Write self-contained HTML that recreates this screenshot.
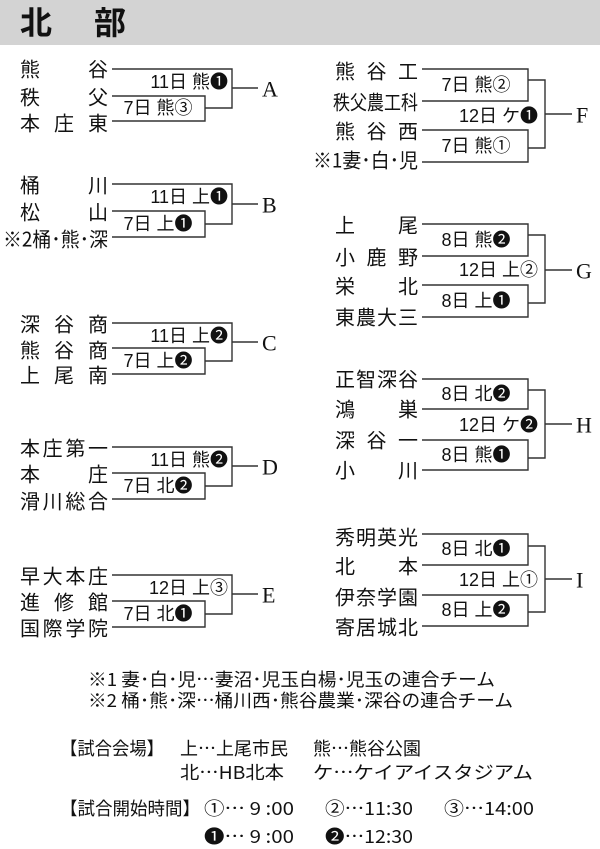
<!DOCTYPE html>
<html><head><meta charset="utf-8"><style>
body{margin:0;background:#fff;}
svg{display:block;}
text{font-family:"Liberation Sans","Noto Sans CJK JP",sans-serif;fill:#111;}
.n{font-size:20px;font-family:"Noto Sans CJK JP",sans-serif;}
.l{font-size:18px;}
.L{font-family:"Liberation Serif",serif;font-size:22px;}
.f{font-size:18px;font-family:"Noto Sans CJK JP",sans-serif;}
path{fill:none;stroke:#333;stroke-width:1.4;}
</style></head><body>
<svg width="600" height="849" viewBox="0 0 600 849" xmlns="http://www.w3.org/2000/svg">
<rect x="0" y="0" width="600" height="45" fill="#d3d3d3"/>
<text x="20" y="34" style="font-size:32px;font-weight:bold">北</text>
<text x="94" y="34" style="font-size:32px;font-weight:bold">部</text>
<g dominant-baseline="central">
<!-- A -->
<text class="n" x="20" y="68" textLength="88" lengthAdjust="spacing">熊谷</text>
<text class="n" x="20" y="96" textLength="88" lengthAdjust="spacing">秩父</text>
<text class="n" x="20" y="122" textLength="88" lengthAdjust="spacing">本庄東</text>
<path d="M112 69H232V108H205M112 96H205V121H112M232 88H258"/>
<text class="l" x="228" y="82" text-anchor="end">11日 熊❶</text>
<text class="l" x="158" y="108" text-anchor="middle">7日 熊③</text>
<text class="L" x="262" y="89">A</text>
<!-- B -->
<text class="n" x="20" y="184" textLength="88" lengthAdjust="spacing">桶川</text>
<text class="n" x="20" y="211" textLength="88" lengthAdjust="spacing">松山</text>
<text class="n" x="3" y="238" textLength="105" lengthAdjust="spacingAndGlyphs">※2桶･熊･深</text>
<path d="M112 184H232V224H205M112 211H205V237H112M232 204H258"/>
<text class="l" x="228" y="197" text-anchor="end">11日 上❶</text>
<text class="l" x="158" y="224" text-anchor="middle">7日 上❶</text>
<text class="L" x="262" y="205">B</text>
<!-- C -->
<text class="n" x="20" y="323" textLength="88" lengthAdjust="spacing">深谷商</text>
<text class="n" x="20" y="349" textLength="88" lengthAdjust="spacing">熊谷商</text>
<text class="n" x="20" y="374" textLength="88" lengthAdjust="spacing">上尾南</text>
<path d="M112 323H232V361H205M112 348H205V374H112M232 342H258"/>
<text class="l" x="228" y="336" text-anchor="end">11日 上❷</text>
<text class="l" x="158" y="361" text-anchor="middle">7日 上❷</text>
<text class="L" x="262" y="343">C</text>
<!-- D -->
<text class="n" x="20" y="447" textLength="88" lengthAdjust="spacing">本庄第一</text>
<text class="n" x="20" y="473" textLength="88" lengthAdjust="spacing">本庄</text>
<text class="n" x="20" y="500" textLength="88" lengthAdjust="spacing">滑川総合</text>
<path d="M112 447H232V486H205M112 473H205V499H112M232 466H258"/>
<text class="l" x="228" y="460" text-anchor="end">11日 熊❷</text>
<text class="l" x="158" y="486" text-anchor="middle">7日 北❷</text>
<text class="L" x="262" y="467">D</text>
<!-- E -->
<text class="n" x="20" y="575" textLength="88" lengthAdjust="spacing">早大本庄</text>
<text class="n" x="20" y="601" textLength="88" lengthAdjust="spacing">進修館</text>
<text class="n" x="20" y="627" textLength="88" lengthAdjust="spacing">国際学院</text>
<path d="M112 575H232V614H205M112 601H205V627H112M232 594H258"/>
<text class="l" x="228" y="588" text-anchor="end">12日 上③</text>
<text class="l" x="158" y="614" text-anchor="middle">7日 北❶</text>
<text class="L" x="262" y="595">E</text>
<!-- F -->
<text class="n" x="335" y="70" textLength="83" lengthAdjust="spacing">熊谷工</text>
<text class="n" x="333" y="101" textLength="85" lengthAdjust="spacingAndGlyphs">秩父農工科</text>
<text class="n" x="335" y="130" textLength="83" lengthAdjust="spacing">熊谷西</text>
<text class="n" x="313" y="159" textLength="105" lengthAdjust="spacingAndGlyphs">※1妻･白･児</text>
<path d="M422 69H528V101H422M422 130H528V162H422M528 80H545V148H528M545 114H572"/>
<text class="l" x="476" y="85" text-anchor="middle">7日 熊②</text>
<text class="l" x="538" y="116" text-anchor="end">12日 ケ❶</text>
<text class="l" x="476" y="146" text-anchor="middle">7日 熊①</text>
<text class="L" x="576" y="115">F</text>
<!-- G -->
<text class="n" x="335" y="224" textLength="83" lengthAdjust="spacing">上尾</text>
<text class="n" x="335" y="256" textLength="83" lengthAdjust="spacing">小鹿野</text>
<text class="n" x="335" y="285" textLength="83" lengthAdjust="spacing">栄北</text>
<text class="n" x="335" y="316" textLength="83" lengthAdjust="spacing">東農大三</text>
<path d="M422 224H528V256H422M422 285H528V317H422M528 235H545V303H528M545 270H572"/>
<text class="l" x="476" y="240" text-anchor="middle">8日 熊❷</text>
<text class="l" x="538" y="270" text-anchor="end">12日 上②</text>
<text class="l" x="476" y="301" text-anchor="middle">8日 上❶</text>
<text class="L" x="576" y="271">G</text>
<!-- H -->
<text class="n" x="335" y="378" textLength="83" lengthAdjust="spacing">正智深谷</text>
<text class="n" x="335" y="408" textLength="83" lengthAdjust="spacing">鴻巣</text>
<text class="n" x="335" y="439" textLength="83" lengthAdjust="spacing">深谷一</text>
<text class="n" x="335" y="469" textLength="83" lengthAdjust="spacing">小川</text>
<path d="M422 379H528V409H422M422 440H528V470H422M528 390H545V458H528M545 424H572"/>
<text class="l" x="476" y="394" text-anchor="middle">8日 北❷</text>
<text class="l" x="538" y="425" text-anchor="end">12日 ケ❷</text>
<text class="l" x="476" y="455" text-anchor="middle">8日 熊❶</text>
<text class="L" x="576" y="425">H</text>
<!-- I -->
<text class="n" x="335" y="536" textLength="83" lengthAdjust="spacing">秀明英光</text>
<text class="n" x="335" y="565" textLength="83" lengthAdjust="spacing">北本</text>
<text class="n" x="335" y="596" textLength="83" lengthAdjust="spacing">伊奈学園</text>
<text class="n" x="335" y="626" textLength="83" lengthAdjust="spacing">寄居城北</text>
<path d="M422 534H528V565H422M422 595H528V626H422M528 546H545V612H528M545 579H572"/>
<text class="l" x="476" y="549" text-anchor="middle">8日 北❶</text>
<text class="l" x="538" y="580" text-anchor="end">12日 上①</text>
<text class="l" x="476" y="610" text-anchor="middle">8日 上❷</text>
<text class="L" x="576" y="580">I</text>
<!-- footer -->
<text class="f" x="88" y="679" textLength="407" lengthAdjust="spacingAndGlyphs">※1 妻･白･児…妻沼･児玉白楊･児玉の連合チーム</text>
<text class="f" x="88" y="700" textLength="425" lengthAdjust="spacingAndGlyphs">※2 桶･熊･深…桶川西･熊谷農業･深谷の連合チーム</text>
<text class="f" x="60" y="748" textLength="104" lengthAdjust="spacingAndGlyphs">【試合会場】</text>
<text class="f" x="180" y="748" textLength="108" lengthAdjust="spacingAndGlyphs">上…上尾市民</text>
<text class="f" x="313" y="748" textLength="108" lengthAdjust="spacingAndGlyphs">熊…熊谷公園</text>
<text class="f" x="180" y="772" textLength="104" lengthAdjust="spacingAndGlyphs">北…HB北本</text>
<text class="f" x="313" y="772" textLength="220" lengthAdjust="spacingAndGlyphs">ケ…ケイアイスタジアム</text>
<text class="f" x="60" y="808" textLength="140" lengthAdjust="spacingAndGlyphs">【試合開始時間】</text>
<text class="f" x="204" y="808" textLength="90" lengthAdjust="spacingAndGlyphs">①… 9 :00</text>
<text class="f" x="325" y="808" textLength="88" lengthAdjust="spacingAndGlyphs">②…11:30</text>
<text class="f" x="444" y="808" textLength="90" lengthAdjust="spacingAndGlyphs">③…14:00</text>
<text class="f" x="204" y="836" textLength="90" lengthAdjust="spacingAndGlyphs">❶… 9 :00</text>
<text class="f" x="325" y="836" textLength="88" lengthAdjust="spacingAndGlyphs">❷…12:30</text>
</g>
</svg>
</body></html>
